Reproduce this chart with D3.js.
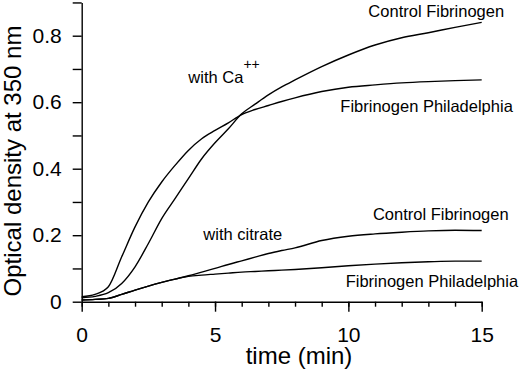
<!DOCTYPE html>
<html>
<head>
<meta charset="utf-8">
<script src="https://cdn.jsdelivr.net/npm/d3@7"></script>
<style>
  html, body { margin: 0; padding: 0; background: #fff; }
  svg { display: block; font-family: "Liberation Sans", Arial, Helvetica, sans-serif; }
</style>
</head>
<body>
<svg id="chart" width="520" height="370"></svg>
<script>
// ---- data ----
const times = [0, 0.5, 1, 1.5, 2, 2.5, 3, 3.5, 4, 4.5, 5, 5.5, 6, 6.5, 7, 7.5, 8, 9, 10, 11, 12, 13, 14, 15];
const controlCa = [0.012, 0.016, 0.027, 0.055, 0.105, 0.175, 0.25, 0.31, 0.37, 0.43, 0.478, 0.52, 0.565, 0.594, 0.622, 0.646, 0.667, 0.707, 0.742, 0.772, 0.794, 0.809, 0.825, 0.840];
const philaCa   = [0.015, 0.022, 0.045, 0.135, 0.225, 0.30, 0.36, 0.41, 0.455, 0.49, 0.515, 0.538, 0.563, 0.578, 0.59, 0.602, 0.613, 0.632, 0.645, 0.652, 0.658, 0.662, 0.665, 0.667];
const controlCit = [0.005, 0.007, 0.01, 0.022, 0.035, 0.047, 0.058, 0.068, 0.078, 0.089, 0.100, 0.112, 0.123, 0.134, 0.145, 0.154, 0.162, 0.184, 0.197, 0.204, 0.209, 0.213, 0.215, 0.214];
const philaCit   = [0.005, 0.007, 0.01, 0.022, 0.035, 0.047, 0.058, 0.068, 0.076, 0.080, 0.083, 0.086, 0.089, 0.091, 0.093, 0.095, 0.097, 0.102, 0.108, 0.113, 0.117, 0.120, 0.122, 0.122];

const xMajorTicks = [0, 5, 10, 15];
const xMinorTicks = d3.range(0, 16, 1);
const yMajorTicks = [0, 0.2, 0.4, 0.6, 0.8];
const yAllTicks = [0, 0.1, 0.2, 0.3, 0.4, 0.5, 0.6, 0.7, 0.8, 0.9];

const xTitle = "time (min)";
const yTitle = "Optical density at 350 nm";

const labels = [
  { text: "Control Fibrinogen", t: 10.75, v: 0.855 },
  { text: "Fibrinogen Philadelphia", t: 9.7, v: 0.571 },
  { text: "Control Fibrinogen", t: 10.92, v: 0.245 },
  { text: "Fibrinogen Philadelphia", t: 9.9, v: 0.045 },
  { text: "with citrate", t: 4.56, v: 0.185 }
];

// ---- layout ----
const svg = d3.select("#chart");
const x = d3.scaleLinear().domain([0, 15]).range([81.7, 481.7]);
const y = d3.scaleLinear().domain([0, 0.9]).range([301.7, 2.45]);

const fmt = d => d === 0 ? "0" : d3.format(".1f")(d);

// minor x ticks
svg.append("g")
  .attr("transform", `translate(0,${y(0)})`)
  .call(d3.axisBottom(x).tickValues(xMinorTicks).tickSize(5).tickSizeOuter(0).tickFormat(""))
  .call(g => g.select(".domain").remove());

// major x ticks + domain
const gx = svg.append("g")
  .attr("transform", `translate(0,${y(0)})`)
  .call(d3.axisBottom(x).tickValues(xMajorTicks).tickSize(10).tickPadding(15).tickSizeOuter(0));

// y axis
const gy = svg.append("g")
  .attr("transform", `translate(${x(0)},0)`)
  .call(d3.axisLeft(y).tickValues(yAllTicks).tickSize(9).tickPadding(11).tickSizeOuter(0)
        .tickFormat(d => yMajorTicks.some(m => Math.abs(m - d) < 1e-9) ? fmt(d) : ""));

[gx, gy].forEach(g => {
  g.selectAll("path, line").attr("stroke", "#000").attr("stroke-width", 1.4);
  g.selectAll("text").attr("fill", "#000").attr("font-size", 21)
    .attr("font-family", '"Liberation Sans", Arial, sans-serif');
});
svg.selectAll("g line").attr("stroke", "#000").attr("stroke-width", 1.4);

// titles
svg.append("text")
  .attr("x", 299).attr("y", 364)
  .attr("text-anchor", "middle")
  .attr("font-size", 24)
  .text(xTitle);

svg.append("text")
  .attr("transform", "translate(21,161) rotate(-90)")
  .attr("text-anchor", "middle")
  .attr("font-size", 24)
  .text(yTitle);

// curves
const line = d3.line().x((d, i) => x(times[i])).y(d => y(d)).curve(d3.curveMonotoneX);
[controlCa, philaCa, controlCit, philaCit].forEach(series => {
  svg.append("path")
    .attr("d", line(series))
    .attr("fill", "none")
    .attr("stroke", "#000")
    .attr("stroke-width", 1.4);
});

// labels
labels.forEach(l => {
  svg.append("text")
    .attr("x", x(l.t)).attr("y", y(l.v))
    .attr("font-size", 16.5)
    .text(l.text);
});

// "with Ca++" with superscript
const ca = svg.append("text")
  .attr("x", x(4.0)).attr("y", y(0.657))
  .attr("font-size", 16.5);
ca.append("tspan").text("with Ca");
ca.append("tspan").attr("dy", -14).attr("font-size", 14).text("++");
</script>
</body>
</html>
